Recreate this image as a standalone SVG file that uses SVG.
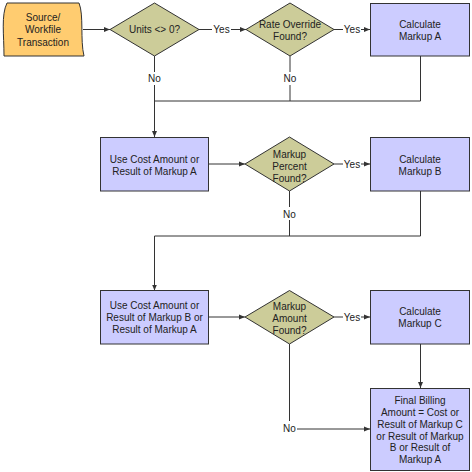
<svg xmlns="http://www.w3.org/2000/svg" width="472" height="472" viewBox="0 0 472 472">
<style>
text{font-family:"Liberation Sans",Arial,sans-serif;font-size:10px;fill:#222;text-anchor:middle}
.box{fill:#ccccff;stroke:#333;stroke-width:1}
.dia{fill:#cccc99;stroke:#333;stroke-width:1}
.src{fill:#ffcc70;stroke:#333;stroke-width:1}
.ln{fill:none;stroke:#333;stroke-width:1}
.ar{marker-end:url(#ah)}
</style>
<defs>
<marker id="ah" markerUnits="userSpaceOnUse" markerWidth="6" markerHeight="6" refX="6" refY="3" orient="auto">
<path d="M0,0.5 L6,3 L0,5.5 z" fill="#333"/>
</marker>
</defs>
<rect width="472" height="472" fill="#fff"/>
<g id="connectors">
<path class="ln ar" d="M83,29.5 H110"/>
<path class="ln" d="M199,29.5 H212"/>
<path class="ln ar" d="M231,29.5 H246"/>
<path class="ln" d="M334,29.5 H343"/>
<path class="ln ar" d="M361,29.5 H370"/>
<path class="ln" d="M154.5,56 V72"/>
<path class="ln ar" d="M154.5,85 V137"/>
<path class="ln" d="M290,56 V72"/>
<path class="ln" d="M290,85 V101"/>
<path class="ln" d="M420.5,56 V101 H154.5"/>
<path class="ln ar" d="M208.5,164 H245"/>
<path class="ln" d="M334,164 H343"/>
<path class="ln ar" d="M361,164 H370"/>
<path class="ln" d="M289.5,191 V207"/>
<path class="ln" d="M289.5,220 V236"/>
<path class="ln ar" d="M420.5,191 V236 H154.5 V290.5"/>
<path class="ln ar" d="M208.5,317 H245"/>
<path class="ln" d="M334,317 H343"/>
<path class="ln ar" d="M361,317 H370"/>
<path class="ln ar" d="M420.5,344 V388"/>
<path class="ln" d="M289.5,344 V421"/>
<path class="ln ar" d="M297,429 H370"/>
<text x="154.5" y="82">No</text>
<text x="290" y="82">No</text>
<text x="221.5" y="33">Yes</text>
<text x="352" y="33">Yes</text>
<text x="352" y="167.5">Yes</text>
<text x="289.5" y="217.5">No</text>
<text x="352" y="320.5">Yes</text>
<text x="289.5" y="432">No</text>
</g>
<g id="source">
<path class="src" d="M7,3 H79 C84,15 80,40 84,56 H4 C4,35 1,15 7,3 Z"/>
<text x="43" y="20.5">Source/</text>
<text x="43" y="33">Workfile</text>
<text x="43" y="45.5">Transaction</text>
</g>
<g id="units">
<polygon class="dia" points="110,29.5 154.5,3 199,29.5 154.5,56"/>
<text x="154.5" y="33">Units &lt;&gt; 0?</text>
</g>
<g id="rate">
<polygon class="dia" points="246,29.5 290,3 334,29.5 290,56"/>
<text x="290" y="28">Rate Override</text>
<text x="290" y="40">Found?</text>
</g>
<g id="calcA">
<rect class="box" x="370.5" y="3.5" width="99" height="52.5"/>
<text x="420" y="27.5">Calculate</text>
<text x="420" y="39.5">Markup A</text>
</g>
<g id="use1">
<rect class="box" x="100.5" y="137.5" width="108" height="53.5"/>
<text x="154.5" y="162.5">Use Cost Amount or</text>
<text x="154.5" y="174.5">Result of Markup A</text>
</g>
<g id="percent">
<polygon class="dia" points="245,164 289.5,137 334,164 289.5,191"/>
<text x="289.5" y="157.5">Markup</text>
<text x="289.5" y="169.5">Percent</text>
<text x="289.5" y="181.5">Found?</text>
</g>
<g id="calcB">
<rect class="box" x="370.5" y="137.5" width="99" height="53.5"/>
<text x="420" y="162.5">Calculate</text>
<text x="420" y="174.5">Markup B</text>
</g>
<g id="use2">
<rect class="box" x="100.5" y="290.5" width="108" height="53.5"/>
<text x="154.5" y="309">Use Cost Amount or</text>
<text x="154.5" y="321">Result of Markup B or</text>
<text x="154.5" y="333">Result of Markup A</text>
</g>
<g id="amount">
<polygon class="dia" points="245,317 289.5,290.5 334,317 289.5,344"/>
<text x="289.5" y="310">Markup</text>
<text x="289.5" y="322">Amount</text>
<text x="289.5" y="334">Found?</text>
</g>
<g id="calcC">
<rect class="box" x="370.5" y="290.5" width="99" height="53.5"/>
<text x="420" y="315">Calculate</text>
<text x="420" y="327">Markup C</text>
</g>
<g id="final">
<rect class="box" x="370.5" y="388.5" width="99" height="82"/>
<text x="420" y="403.5">Final Billing</text>
<text x="420" y="415.5">Amount = Cost or</text>
<text x="420" y="427.5">Result of Markup C</text>
<text x="420" y="439.5">or Result of Markup</text>
<text x="420" y="451">B or Result of</text>
<text x="420" y="463">Markup A</text>
</g>
</svg>
